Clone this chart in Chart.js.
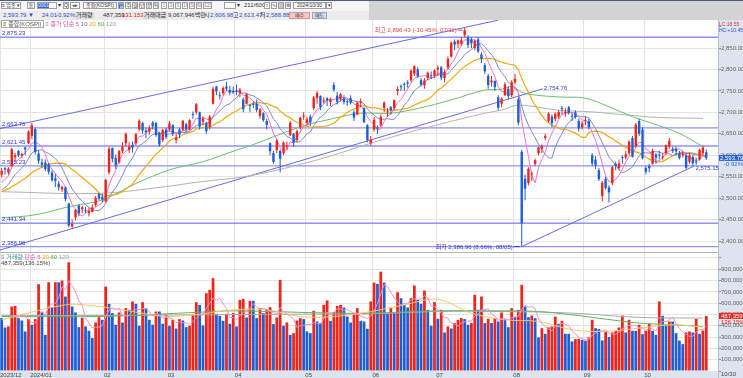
<!DOCTYPE html>
<html lang="ko">
<head>
<meta charset="utf-8">
<title>종합(KOSPI) 일봉</title>
<script src="https://cdn.jsdelivr.net/npm/chart.js@4.4.1/dist/chart.umd.min.js"></script>
<style>
  body { margin: 0; width: 743px; height: 378px; overflow: hidden; position: relative; background: #fff;
         font-family: "Liberation Sans", "Noto Sans CJK KR", sans-serif; font-size: 6px; color: #333; }
  .abs { position: absolute; white-space: nowrap; line-height: 7px; }
  .box { position: absolute; height: 7px; border: 1px solid #a0a0a0; background: #fbfbfb; box-sizing: border-box;
         font-size: 5px; line-height: 5px; text-align: center; white-space: nowrap; color: #333; overflow: hidden; }
  .gray { color: #888; }
  canvas { position: absolute; left: 0; }
</style>
</head>
<body>
<!-- toolbar -->
<div class="abs" style="left:0;top:0;width:743px;height:20px;background:#d3d3d3;border-top:1px solid #4b5b8e;box-sizing:border-box"></div>
<div class="abs" style="left:0;top:1px;width:369px;height:10px;background:#f6f6f6"></div>
<div class="abs" style="left:0;top:11px;width:369px;height:9px;background:#ececec"></div>
<div class="box" style="left:1px;top:2px;width:20px">≡ 업종 ▾</div>
<div class="box" style="left:27px;top:2px;width:8px">돋</div>
<div class="box" style="left:37px;top:2px;width:20px;text-align:left"><span style="background:#2e63d6;color:#fff">0001</span></div>
<div class="abs" style="left:58px;top:2px">▾</div>
<div class="box" style="left:63px;top:2px;width:6px">Q</div>
<div class="box" style="left:70px;top:2px;width:10px">◂▸</div>
<div class="box" style="left:83px;top:2px;width:34px">종합(KOSPI)</div>
<div class="box" style="left:118px;top:2px;width:6px;background:#2e63d6;color:#fff">일</div>
<div class="box" style="left:125px;top:2px;width:6px">주</div>
<div class="box" style="left:132px;top:2px;width:6px">월</div>
<div class="box" style="left:139px;top:2px;width:6px">년</div>
<div class="box" style="left:146px;top:2px;width:6px">분</div>
<div class="box" style="left:153px;top:2px;width:6px">틱</div>
<div class="box gray" style="left:161px;top:2px;width:6px">1</div>
<div class="box gray" style="left:168px;top:2px;width:6px">3</div>
<div class="box gray" style="left:175px;top:2px;width:6px">5</div>
<div class="box gray" style="left:182px;top:2px;width:6px">10</div>
<div class="box gray" style="left:189px;top:2px;width:6px">30</div>
<div class="box gray" style="left:196px;top:2px;width:6px">60</div>
<div class="box gray" style="left:203px;top:2px;width:9px">120</div>
<div class="box" style="left:224px;top:2px;width:12px"></div>
<div class="abs" style="left:237px;top:2px">▾</div>
<div class="abs" style="left:244px;top:2px">211/600</div>
<div class="box" style="left:264px;top:2px;width:6px">↕</div>
<div class="box" style="left:271px;top:2px;width:6px">∿</div>
<div class="box" style="left:278px;top:2px;width:6px">▤</div>
<div class="box" style="left:285px;top:2px;width:6px">⚙</div>
<div class="box" style="left:293px;top:2px;width:33px">2024/10/30</div>
<div class="box" style="left:326px;top:2px;width:6px">▾</div>

<div class="abs" style="left:3px;top:12px;color:#2a4fd0">2,593.79 ▼</div>
<div class="abs" style="left:42px;top:12px;color:#2a4fd0">24.01</div>
<div class="abs" style="left:56px;top:12px;color:#2a4fd0">-0.92%</div>
<div class="abs" style="left:75px;top:12px;background:#dcdcdc;padding:0 1px">거래량</div>
<div class="abs" style="left:103px;top:12px">487,359</div>
<div class="abs" style="left:122px;top:12px;color:#e02020">131.153</div>
<div class="abs" style="left:143px;top:12px;background:#dcdcdc;padding:0 1px">거래대금</div>
<div class="abs" style="left:168px;top:12px">9,067,946백만</div>
<div class="abs" style="left:204px;top:12px">시</div>
<div class="abs" style="left:210px;top:12px;color:#2a4fd0">2,606.98</div>
<div class="abs" style="left:233px;top:12px">고</div>
<div class="abs" style="left:239px;top:12px;color:#2a4fd0">2,613.47</div>
<div class="abs" style="left:260px;top:12px">저</div>
<div class="abs" style="left:266px;top:12px;color:#2a4fd0">2,588.88</div>
<div class="box" style="left:289px;top:12px;width:21px;background:#f3c4c4;border-color:#d99">매수</div>
<div class="box" style="left:312px;top:12px;width:15px;background:#cfdcf0;border-color:#9ab">매도</div>

<!-- axis backgrounds -->
<div class="abs" style="left:718px;top:20px;width:25px;height:358px;background:#dde4ef;border-left:1px solid #b9c3d3;box-sizing:border-box"></div>
<div class="abs" style="left:0;top:371px;width:718px;height:7px;background:#dde4ef"></div>
<div class="abs" style="left:0;top:252px;width:718px;height:1px;background:#b4b4b4"></div>

<canvas id="priceChart" width="743" height="232" style="top:20px"></canvas>
<canvas id="volChart" width="743" height="125" style="top:253px"></canvas>

<!-- panel legends -->
<div class="abs" style="left:1px;top:21px"><span style="border:1px solid #aaa;padding:0 1px;color:#555">≡ 종합(KOSPI)</span> <span style="color:#888">≡</span>
  <span style="color:#e24bb4">종가 단순 5</span> <span style="color:#5b6fc0">10</span> <span style="color:#f0a400">20</span> <span style="color:#4fae4f">60</span> <span style="color:#999">120</span></div>
<div class="abs" style="left:1px;top:254px"><span style="color:#888">≡</span> <span style="color:#2a9aa0">거래량</span>
  <span style="color:#e24bb4">단순 5</span> <span style="color:#f0b400">20</span> <span style="color:#4fae4f">60</span> <span style="color:#999">120</span></div>
<div class="abs" style="left:1px;top:260px;color:#444">487,359(136.15%)</div>
<div class="abs" style="left:719px;top:21px;color:#e03030;font-size:5px">LC:18.55</div>
<div class="abs" style="left:719px;top:27px;color:#3050d0;font-size:5px">HC:+10.45</div>
<div class="abs" style="left:721px;top:371px;color:#444">10/30</div>

<script>
// 일봉 데이터 (2023/12/15 ~ 2024/10/30), 그림에서 읽은 값
const dates = [
  '12/15','12/18','12/19','12/20','12/21','12/22','12/26','12/27','12/28',
  '01/02','01/03','01/04','01/05','01/08','01/09','01/10','01/11','01/12','01/15','01/16','01/17','01/18','01/19','01/22','01/23','01/24','01/25','01/26','01/29','01/30','01/31',
  '02/01','02/02','02/05','02/06','02/07','02/08','02/13','02/14','02/15','02/16','02/19','02/20','02/21','02/22','02/23','02/26','02/27','02/28','02/29',
  '03/04','03/05','03/06','03/07','03/08','03/11','03/12','03/13','03/14','03/15','03/18','03/19','03/20','03/21','03/22','03/25','03/26','03/27','03/28','03/29',
  '04/01','04/02','04/03','04/04','04/05','04/08','04/09','04/11','04/12','04/15','04/16','04/17','04/18','04/19','04/22','04/23','04/24','04/25','04/26','04/29','04/30',
  '05/02','05/03','05/07','05/08','05/09','05/10','05/13','05/14','05/16','05/17','05/20','05/21','05/22','05/23','05/24','05/27','05/28','05/29','05/30','05/31',
  '06/03','06/04','06/05','06/07','06/10','06/11','06/12','06/13','06/14','06/17','06/18','06/19','06/20','06/21','06/24','06/25','06/26','06/27','06/28',
  '07/01','07/02','07/03','07/04','07/05','07/08','07/09','07/10','07/11','07/12','07/15','07/16','07/17','07/18','07/19','07/22','07/23','07/24','07/25','07/26','07/29','07/30','07/31',
  '08/01','08/02','08/05','08/06','08/07','08/08','08/09','08/12','08/13','08/14','08/16','08/19','08/20','08/21','08/22','08/23','08/26','08/27','08/28','08/29','08/30',
  '09/02','09/03','09/04','09/05','09/06','09/09','09/10','09/11','09/12','09/13','09/19','09/20','09/23','09/24','09/25','09/26','09/27','09/30',
  '10/02','10/04','10/07','10/08','10/10','10/11','10/14','10/15','10/16','10/17','10/18','10/21','10/22','10/23','10/24','10/25','10/28','10/29','10/30'
];
const monthLabels = ['2023/12','2024/01','02','03','04','05','06','07','08','09','10'];

const opens = [
  2555,2570,2560,2575,2595,2610,2599,2618,2628,
  2645,2661,2604,2583,2583,2579,2560,2546,2534,2520,2525,2487,2434,2455,2483,2474,2471,2465,2468,2484,2510,2503,
  2493,2560,2617,2594,2584,2609,2628,2612,2624,2628,2660,2675,2658,2655,2676,2675,2652,2635,2660,
  2660,2670,2635,2660,2660,2672,2660,2695,2700,2700,2678,2675,2665,2720,2760,2738,2745,2760,2752,2750,
  2750,2745,2730,2720,2715,2720,2720,2692,2698,2680,2628,2605,2612,2610,2605,2620,2647,2650,2635,2665,2690,
  2675,2690,2710,2733,2738,2725,2733,2724,2764,2739,2730,2732,2726,2733,2700,2695,2722,2710,2670,2628,
  2660,2665,2670,2710,2700,2712,2710,2750,2760,2765,2770,2775,2790,2800,2775,2763,2780,2785,2785,
  2800,2805,2780,2805,2830,2865,2860,2860,2880,2875,2870,2850,2870,2835,2810,2785,2770,2773,2735,2720,2740,2755,2740,
  2770,2730,2608,2545,2535,2555,2580,2605,2615,2640,2680,2690,2685,2690,2710,2698,2712,2690,2700,2680,2665,
  2680,2680,2600,2590,2565,2505,2545,2525,2535,2580,2570,2595,2595,2605,2640,2620,2680,2660,
  2570,2575,2580,2602,2600,2595,2605,2620,2615,2615,2605,2600,2600,2585,2596,2585,2590,2605,2606.98
];
const highs = [
  2570,2572,2572,2617,2605,2612,2606,2620,2658,
  2675,2663,2611,2592,2590,2582,2565,2556,2540,2530,2527,2490,2450,2474,2485,2482,2480,2478,2485,2505,2512,2510,
  2545,2620,2618,2602,2612,2630,2653,2630,2632,2652,2684,2678,2664,2670,2680,2678,2655,2662,2664,
  2680,2672,2652,2664,2682,2676,2684,2702,2722,2702,2690,2678,2694,2760,2762,2748,2760,2771,2762,2760,
  2765,2757,2735,2745,2720,2725,2730,2710,2700,2685,2630,2610,2637,2614,2632,2632,2680,2652,2660,2690,2700,
  2690,2695,2738,2750,2740,2735,2735,2734,2770,2748,2745,2740,2730,2740,2705,2725,2732,2712,2672,2645,
  2690,2670,2695,2725,2710,2715,2730,2760,2765,2770,2775,2800,2810,2805,2780,2780,2795,2795,2800,
  2810,2808,2800,2830,2865,2870,2870,2875,2896.43,2880,2875,2870,2875,2840,2815,2790,2785,2775,2740,2735,2770,2760,2775,
  2790,2735,2612,2555,2572,2562,2592,2620,2625,2650,2700,2695,2700,2705,2715,2710,2715,2700,2705,2685,2680,
  2690,2685,2605,2598,2570,2540,2550,2530,2575,2585,2590,2600,2610,2635,2645,2675,2685,2665,
  2575,2580,2615,2605,2610,2605,2625,2640,2620,2620,2610,2610,2605,2605,2600,2595,2615,2622,2613.47
];
const lows = [
  2548,2555,2555,2572,2588,2596,2594,2600,2626,
  2638,2602,2580,2571,2563,2555,2538,2526,2518,2515,2492,2432,2428,2448,2458,2465,2465,2457,2467,2480,2495,2490,
  2490,2555,2583,2568,2580,2605,2620,2606,2606,2622,2656,2650,2640,2648,2660,2643,2620,2630,2638,
  2655,2645,2628,2640,2656,2655,2658,2685,2695,2660,2670,2650,2660,2718,2740,2730,2740,2750,2740,2743,
  2740,2735,2700,2718,2700,2710,2700,2685,2678,2660,2600,2580,2605,2560,2600,2612,2645,2620,2630,2660,2683,
  2670,2668,2705,2720,2705,2720,2715,2715,2748,2718,2725,2718,2715,2718,2680,2693,2712,2675,2630,2622,
  2655,2650,2665,2700,2690,2695,2705,2740,2750,2750,2758,2770,2785,2780,2760,2755,2775,2778,2780,
  2785,2775,2770,2800,2828,2845,2850,2855,2875,2850,2850,2845,2838,2815,2790,2755,2760,2750,2705,2712,2738,2730,2735,
  2765,2670,2386.96,2495,2530,2540,2575,2600,2605,2635,2675,2665,2680,2685,2695,2690,2695,2680,2685,2655,2660,
  2670,2660,2575,2568,2540,2492,2520,2490,2530,2565,2565,2580,2590,2600,2595,2618,2645,2590,
  2555,2560,2578,2580,2590,2590,2600,2615,2605,2600,2590,2595,2568,2580,2575,2578,2588,2600,2588.88
];
const closes = [
  2563.56,2566.86,2568.55,2614.30,2600.02,2599.51,2602.59,2613.50,2655.28,
  2669.81,2607.31,2587.02,2578.08,2567.82,2561.24,2541.98,2540.27,2525.05,2525.99,2497.59,2435.90,2440.04,2472.74,2464.35,2478.61,2469.69,2470.34,2478.56,2500.65,2498.81,2497.09,
  2542.46,2615.31,2591.31,2576.20,2609.58,2620.32,2649.64,2620.42,2617.80,2648.76,2680.26,2657.79,2653.31,2664.27,2667.70,2647.08,2625.05,2658.63,2642.36,
  2674.27,2649.40,2641.49,2647.62,2680.35,2660.21,2681.81,2693.57,2718.76,2666.84,2685.84,2656.17,2690.14,2754.86,2748.56,2737.57,2757.09,2755.11,2745.82,2746.63,
  2747.86,2753.16,2706.97,2742.00,2714.21,2717.65,2705.16,2706.96,2681.82,2670.43,2609.63,2584.18,2634.70,2591.86,2629.44,2623.02,2675.75,2628.62,2656.33,2687.44,2692.06,
  2683.65,2676.63,2734.36,2745.05,2712.14,2727.63,2727.21,2730.34,2753.00,2724.62,2742.14,2724.18,2723.46,2721.81,2687.60,2722.99,2722.85,2677.30,2635.44,2636.52,
  2682.52,2662.10,2689.50,2722.67,2701.17,2705.42,2728.17,2754.45,2758.42,2763.92,2766.92,2797.33,2807.63,2784.06,2764.73,2774.39,2792.05,2784.18,2797.82,
  2804.31,2780.86,2794.01,2824.94,2862.23,2857.76,2867.38,2867.99,2891.35,2857.00,2860.92,2866.09,2842.00,2824.35,2795.46,2763.51,2774.30,2758.71,2710.65,2731.90,2765.52,2738.19,2770.69,
  2777.68,2676.19,2441.55,2522.15,2568.41,2556.73,2588.43,2618.30,2621.50,2644.50,2697.23,2674.36,2696.63,2701.13,2707.67,2701.69,2698.01,2689.83,2689.25,2662.28,2674.31,
  2681.00,2664.63,2580.80,2576.26,2544.28,2535.93,2523.43,2513.37,2572.09,2575.41,2580.80,2593.37,2602.01,2631.68,2596.32,2671.57,2649.78,2593.27,
  2561.69,2569.71,2610.38,2594.36,2599.16,2596.91,2623.30,2633.45,2610.36,2609.30,2593.82,2604.06,2570.70,2599.62,2581.03,2583.27,2612.43,2617.80,2593.79
];
// 표시 구간 이전 종가 (이동평균 계산용)
const prevCloses = [2488.18,2469.85,2491.20,2510.42,2511.70,2514.96,2496.63,2495.66,2521.76,2519.81,2535.29,
  2505.01,2514.97,2494.28,2495.38,2492.07,2517.85,2525.36,2535.07,2510.66,2544.18];

// 거래량 (천주, 1/1000 단위)
const volumes = [
  468,385,394,570,576,468,447,350,459,409,459,768,524,320,785,565,785,785,800,659,
  962,571,518,388,471,394,356,291,429,476,453,747,594,512,409,518,429,556,541,615,
  594,400,609,556,453,409,526,526,418,497,400,453,376,459,447,388,400,497,609,585,
  403,688,718,821,506,488,444,506,418,512,394,629,638,474,621,621,468,556,512,547,
  565,415,474,806,400,429,320,335,447,468,459,350,335,532,438,424,585,624,444,521,
  576,585,562,482,429,512,556,444,438,374,615,
  782,771,879,782,506,556,512,697,644,585,562,644,756,629,594,712,541,400,609,462,
  541,341,394,376,424,453,468,459,409,424,674,541,659,424,462,424,468,438,518,459,
  388,556,476,541,762,571,476,491,468,297,379,329,385,394,482,418,444,329,329,262,
  282,285,276,268,297,453,379,371,271,350,300,341,356,385,491,341,453,356,356,409,
  326,356,418,356,320,615,488,403,438,438,335,268,238,341,350,341,462,329,357.955,487.359
];

// 그림에서 읽은 장기 이동평균 (봉 번호, 값)
const ma60Idx = [0,10,20,30,40,50,60,70,74,89,99,107,116,124,134,144,149,152,156,166,174,181,188,194,202,209];
const ma60Val = [2454,2461,2480,2496,2534,2566,2585,2612,2622,2666,2686,2698,2698,2709,2729,2752,2754,2760,2744,2736,2733,2713,2690,2674,2651,2620];
const ma120Idx = [0,29,49,59,74,94,110,124,144,149,154,166,176,186,196,209];
const ma120Val = [2515,2511,2527,2538,2552,2589,2628,2659,2698,2705,2717,2705,2701,2694,2688,2686];
const volMa20Idx = [0,19,29,39,49,59,69,79,89,99,110,120,130,140,150,160,170,180,190,200,209];
const volMa20Val = [453,585,571,526,482,503,541,541,482,482,526,585,635,512,453,438,365,350,379,409,388];
const volMa60Idx = [0,29,59,69,99,110,130,150,160,170,180,190,200,209];
const volMa60Val = [482,482,520,532,512,512,532,532,526,497,459,424,409,394];
const volMa120Idx = [0,29,59,89,109,130,150,170,190,209];
const volMa120Val = [491,491,497,503,506,526,526,512,474,468];

// 수평선 / 추세선
const levels = [2875.23, 2663.76, 2621.45, 2575.23, 2441.34, 2386.96];
const upperLine = [[-0.5, 2662], [148, 2915]];
const lowerLine = [[-0.5, 2379], [161.3, 2754.76]];
const supportLine = [[155, 2386.96], [206.5, 2575.15]];

const UP = '#f0241a', DOWN = '#1f5fd3';
const FONT = '6px "Liberation Sans", "Noto Sans CJK KR", sans-serif';
Chart.defaults.font.family = '"Liberation Sans", "Noto Sans CJK KR", sans-serif';
Chart.defaults.font.size = 6;

const fmt2 = v => v.toLocaleString('en-US', { minimumFractionDigits: 2, maximumFractionDigits: 2 });
const slots = 214;

// 월 경계
const monthTicks = [-0.5];
dates.forEach((d, i) => { if (i > 0 && d.slice(0, 2) !== dates[i - 1].slice(0, 2)) monthTicks.push(i - 0.5); });

function movingAvg(src, n, offset) {
    return closes.map((_, i) => {
        const end = i + offset;
        if (end - n + 1 < 0) return null;
        let s = 0;
        for (let k = end - n + 1; k <= end; k++) s += src[k];
        return { x: i, y: s / n };
    }).filter(p => p);
}
const allCloses = prevCloses.concat(closes);
const pairs = (xs, ys) => xs.map((x, i) => ({ x, y: ys[i] }));
const seg = pts => pts.map(p => ({ x: p[0], y: p[1] }));

const candleColor = closes.map((c, i) => c >= opens[i] ? UP : DOWN);
const volColor = volumes.map((v, i) => i > 0 && v > volumes[i - 1] ? UP : DOWN);

function xScale(showLabels) {
    return {
        type: 'linear', min: -0.5, max: slots - 0.5, offset: false,
        grid: { color: '#e2e2e2', drawTicks: false, offset: false },
        border: { display: false },
        afterBuildTicks: s => { s.ticks = monthTicks.map(v => ({ value: v })); },
        afterFit: s => { s.height = showLabels ? 7 : 0; s.paddingLeft = 0; s.paddingRight = 0; },
        ticks: {
            display: showLabels, autoSkip: false, maxRotation: 0, align: 'start', padding: 1,
            color: '#444', font: { size: 6 },
            callback: (v, i) => monthLabels[i]
        }
    };
}

function lineSet(data, color, width, order, smooth) {
    return { type: 'line', data, borderColor: color, borderWidth: width, pointRadius: 0,
             tension: smooth ? 0.35 : 0, order };
}

// 가격 차트 주석
const priceMarks = {
    id: 'priceMarks',
    afterDraw(chart) {
        const { ctx, chartArea, scales: { x, y } } = chart;
        ctx.save();
        ctx.font = FONT;
        ctx.fillStyle = '#3434cc';
        ctx.textAlign = 'left';
        ctx.textBaseline = 'alphabetic';
        levels.forEach(v => ctx.fillText(fmt2(v), 2, y.getPixelForValue(v) - 2));
        ctx.fillText(fmt2(lowerLine[1][1]), x.getPixelForValue(lowerLine[1][0]) + 1, y.getPixelForValue(lowerLine[1][1]) + 1);
        ctx.fillText(fmt2(supportLine[1][1]), x.getPixelForValue(supportLine[1][0]) + 1, y.getPixelForValue(supportLine[1][1]) + 4);

        const last = closes.length - 1;
        const hi = highs.indexOf(Math.max(...highs));
        const lo = lows.indexOf(Math.min(...lows));
        const pct = v => ((closes[last] - v) / v * 100).toFixed(2) + '%';

        const hx = x.getPixelForValue(hi), hy = y.getPixelForValue(highs[hi]);
        ctx.fillStyle = '#f04545';
        ctx.strokeStyle = '#f04545';
        ctx.textAlign = 'right';
        ctx.fillText(`최고 ${fmt2(highs[hi])} (${pct(highs[hi])}, ${dates[hi]})`, hx - 8, hy + 4);
        ctx.beginPath(); ctx.moveTo(hx - 7, hy + 2); ctx.lineTo(hx - 2, hy + 2); ctx.stroke();

        const lx = x.getPixelForValue(lo), ly = y.getPixelForValue(lows[lo]);
        ctx.fillStyle = '#3434cc';
        ctx.strokeStyle = '#3434cc';
        ctx.fillText(`최저 ${fmt2(lows[lo])} (${pct(lows[lo])}, ${dates[lo]})`, lx - 9, ly + 2);
        ctx.beginPath(); ctx.moveTo(lx - 8, ly); ctx.lineTo(lx - 2, ly); ctx.stroke();

        // 현재가 표시
        const py = y.getPixelForValue(closes[last]);
        const chg = (closes[last] - closes[last - 1]) / closes[last - 1] * 100;
        ctx.fillStyle = '#2b5fd9';
        ctx.fillRect(chartArea.right + 1, py - 3, 24, 6);
        ctx.fillStyle = '#fff';
        ctx.textAlign = 'left';
        ctx.textBaseline = 'middle';
        ctx.fillText(fmt2(closes[last]), chartArea.right + 2, py);
        ctx.fillStyle = '#2b5fd9';
        ctx.fillText(chg.toFixed(2) + '%', chartArea.right + 6, py + 6);
        ctx.restore();
    }
};

const volMarks = {
    id: 'volMarks',
    afterDraw(chart) {
        const { ctx, chartArea, scales: { y } } = chart;
        const last = volumes.length - 1;
        const py = y.getPixelForValue(volumes[last]);
        ctx.save();
        ctx.font = FONT;
        ctx.fillStyle = '#e8281e';
        ctx.fillRect(chartArea.right + 1, py - 3, 24, 6);
        ctx.fillStyle = '#fff';
        ctx.textBaseline = 'middle';
        ctx.fillText((volumes[last] * 1000).toLocaleString('en-US'), chartArea.right + 3, py);
        ctx.fillStyle = '#e8281e';
        ctx.fillText((volumes[last] / volumes[last - 1] * 100).toFixed(2) + '%', chartArea.right + 3, py + 6);
        ctx.restore();
    }
};

new Chart(document.getElementById('priceChart'), {
    data: {
        datasets: [
            ...levels.map(v => lineSet([{ x: -0.5, y: v }, { x: slots - 0.5, y: v }], '#9191ff', 1.4, 20)),
            lineSet(seg(upperLine), '#6a6aee', 1, 15),
            lineSet(seg(lowerLine), '#6a6aee', 1, 15),
            lineSet(seg(supportLine), '#6a6aee', 1, 15),
            lineSet(pairs(ma120Idx, ma120Val), '#b2b2b2', 1, 12, true),
            lineSet(pairs(ma60Idx, ma60Val), '#6cbf6c', 1, 11, true),
            lineSet(movingAvg(allCloses, 20, prevCloses.length), '#f2a90c', 1.2, 10),
            lineSet(movingAvg(allCloses, 10, prevCloses.length), '#7b8acb', 1, 9),
            lineSet(movingAvg(allCloses, 5, prevCloses.length), '#f46fcf', 1, 8),
            {
                type: 'bar', order: 2, grouped: false, categoryPercentage: 1, barPercentage: 0.3,
                data: closes.map((c, i) => ({ x: i, y: [lows[i], highs[i]] })),
                backgroundColor: candleColor
            },
            {
                type: 'bar', order: 1, grouped: false, categoryPercentage: 1, barPercentage: 0.72, minBarLength: 1,
                data: closes.map((c, i) => ({ x: i, y: [opens[i], c] })),
                backgroundColor: candleColor
            }
        ]
    },
    options: {
        responsive: false, animation: false, devicePixelRatio: 1,
        layout: { padding: 0 },
        plugins: { legend: { display: false }, tooltip: { enabled: false } },
        scales: {
            x: xScale(false),
            y: {
                position: 'right', min: 2374.4, max: 2915.3,
                grid: { color: c => c.tick && c.tick.value > 2880 ? 'rgba(0,0,0,0)' : '#e4e4e4', tickLength: 3, tickColor: '#8a8a8a' },
                border: { color: '#b9c3d3' },
                afterFit: s => { s.width = 25; s.paddingTop = 0; s.paddingBottom = 0; },
                ticks: {
                    stepSize: 50, includeBounds: false, padding: 0, color: '#666', font: { size: 6 },
                    callback: v => v > 2880 ? '' : fmt2(v)
                }
            }
        }
    },
    plugins: [priceMarks]
});

new Chart(document.getElementById('volChart'), {
    data: {
        datasets: [
            lineSet(pairs(volMa120Idx, volMa120Val), '#aaaaaa', 1, 6, true),
            lineSet(pairs(volMa60Idx, volMa60Val), '#5fb45f', 1, 5, true),
            lineSet(pairs(volMa20Idx, volMa20Val), '#fbc860', 1, 4, true),
            lineSet(movingAvg(volumes, 5, 0), '#ef8ee0', 1, 3),
            {
                type: 'bar', order: 10, grouped: false, categoryPercentage: 1, barPercentage: 0.82,
                data: volumes.map((v, i) => ({ x: i, y: v })),
                backgroundColor: volColor
            }
        ]
    },
    options: {
        responsive: false, animation: false, devicePixelRatio: 1,
        layout: { padding: 0 },
        plugins: { legend: { display: false }, tooltip: { enabled: false } },
        scales: {
            x: xScale(true),
            y: {
                position: 'right', min: 0, max: 1044,
                grid: { color: '#e4e4e4', tickLength: 3, tickColor: '#8a8a8a' },
                border: { color: '#b9c3d3' },
                afterFit: s => { s.width = 25; s.paddingTop = 0; s.paddingBottom = 0; },
                ticks: {
                    stepSize: 100, includeBounds: false, padding: 0, color: '#666', font: { size: 6 },
                    callback: v => (v > 0 && v < 1000) ? (v * 1000).toLocaleString('en-US') : ''
                }
            }
        }
    },
    plugins: [volMarks]
});
</script>
</body>
</html>
